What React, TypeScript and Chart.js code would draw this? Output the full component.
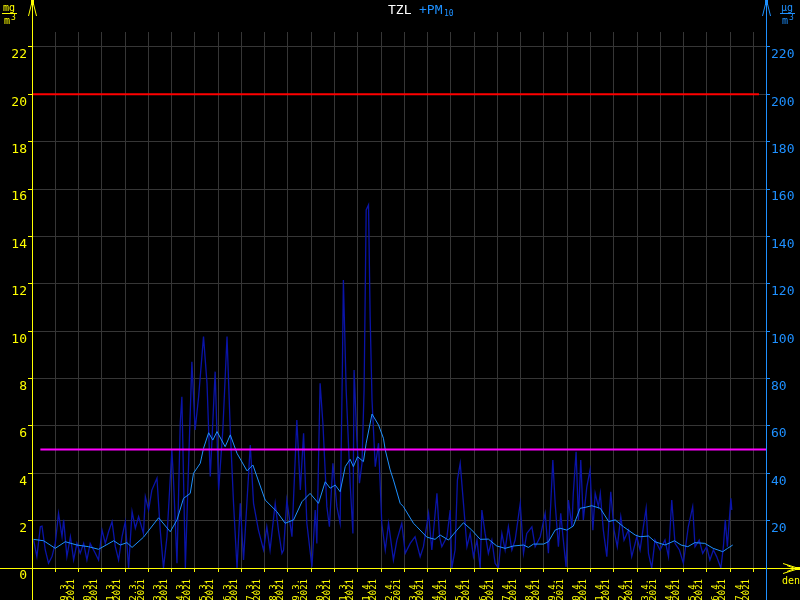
import React, { useEffect, useRef } from "react";
import { Chart, registerables } from "chart.js";
Chart.register(...registerables);

const dayLabels = [
  "19.3.", "20.3.", "21.3.", "22.3.", "23.3.", "24.3.", "25.3.", "26.3.", "27.3.", "28.3.",
  "29.3.", "30.3.", "31.3.", "1.4.", "2.4.", "3.4.", "4.4.", "5.4.", "6.4.", "7.4.",
  "8.4.", "9.4.", "10.4.", "11.4.", "12.4.", "13.4.", "14.4.", "15.4.", "16.4.", "17.4.",
];
const yearLabel = "2021";

const leftTicks = [0, 2, 4, 6, 8, 10, 12, 14, 16, 18, 20, 22];
const rightTicks = [0, 20, 40, 60, 80, 100, 120, 140, 160, 180, 200, 220];

// hourly PM10 (µg/m³), x in days since 18.3. 00:00
const pm10Days = [
  0.07, 0.21, 0.36, 0.43, 0.57, 0.71, 0.86, 1.0, 1.14, 1.29, 1.36, 1.5, 1.65, 1.79, 1.93, 2.07, 2.22, 2.36, 2.5, 2.72,
  2.86, 3.01, 3.15, 3.29, 3.44, 3.58, 3.72, 3.87, 4.01, 4.15, 4.3, 4.44, 4.58, 4.79, 4.87, 5.01, 5.15, 5.37, 5.51, 5.65,
  5.8, 6.01, 6.08, 6.23, 6.37, 6.44, 6.59, 6.73, 6.87, 7.01, 7.16, 7.37, 7.52, 7.66, 7.87, 8.02, 8.2, 8.38, 8.52, 8.66,
  8.81, 8.95, 9.09, 9.38, 9.52, 9.73, 9.95, 10.09, 10.23, 10.45, 10.59, 10.74, 10.81, 10.95, 11.17, 11.38, 11.53, 11.67, 11.81, 12.03,
  12.17, 12.24, 12.38, 12.5, 12.67, 12.78, 12.93, 13.1, 13.24, 13.34, 13.38, 13.5, 13.67, 13.79, 13.84, 13.96, 14.07, 14.18, 14.27, 14.36,
  14.46, 14.53, 14.61, 14.75, 14.89, 15.03, 15.18, 15.32, 15.53, 15.68, 15.89, 16.04, 16.25, 16.46, 16.68, 16.82, 17.04, 17.18, 17.4, 17.51,
  17.61, 17.83, 17.97, 18.04, 18.18, 18.28, 18.4, 18.54, 18.69, 18.83, 18.97, 19.12, 19.26, 19.33, 19.47, 19.61, 19.76, 19.9, 20.04, 20.19,
  20.33, 20.47, 20.62, 20.76, 20.98, 21.12, 21.26, 21.48, 21.62, 21.84, 22.05, 22.19, 22.38, 22.48, 22.62, 22.72, 22.83, 22.95, 23.05, 23.2,
  23.26, 23.38, 23.48, 23.58, 23.69, 23.84, 23.98, 24.1, 24.2, 24.34, 24.42, 24.55, 24.7, 24.87, 25.01, 25.15, 25.3, 25.44, 25.63, 25.77,
  25.99, 26.13, 26.27, 26.39, 26.49, 26.63, 26.77, 26.99, 27.2, 27.35, 27.49, 27.63, 27.82, 27.99, 28.2, 28.39, 28.49, 28.67, 28.82, 28.99,
  29.13, 29.28, 29.42, 29.6, 29.71, 29.79, 29.88, 30.03, 30.07,
];
const pm10Values = [
  11.8, 4.8, 17.4, 17.7, 7.6, 2, 4.8, 10.4, 23.1, 13.2, 20.3, 4.8, 13.2, 3.4, 10.4, 6.2, 10.4, 3.4, 10.4, 6.2,
  3.4, 16, 10.4, 15.3, 19.6, 9, 3.4, 13.2, 19.6, 0, 23.8, 16.8, 21.7, 14.6, 30.1, 24.5, 32.9, 37.9, 16, 0,
  13.2, 49.8, 37.2, 2, 61.1, 72.3, 0, 44.2, 87.1, 58.3, 72.3, 97.7, 78, 38.6, 82.9, 32.9, 58.3, 97.7, 58.3, 27.3,
  0, 27.3, 3.4, 51.9, 27.3, 16, 7.6, 17.4, 7.6, 27.3, 16, 6.2, 7.6, 28.7, 13.2, 62.5, 32.9, 56.9, 18.9, 0.5,
  24.5, 10.4, 78, 61.1, 25.9, 17.4, 44.2, 25.9, 18.9, 86.4, 121.6, 75.2, 35.8, 14.6, 83.6, 54, 35.8, 44.2, 75.2, 151.2,
  153.3, 106, 71, 42.8, 52.7, 18.9, 7.6, 18.9, 3.4, 11.8, 18.9, 6.2, 10.4, 13.2, 4.8, 9, 23.1, 7.6, 31.5, 13.2,
  9, 13.2, 24.5, 0, 7.6, 37.2, 44.2, 27.3, 9, 14.6, 4.8, 11.8, 0, 24.5, 14.6, 6.2, 11.8, 2, 0, 14.6,
  7.6, 17.4, 7.6, 11.8, 27.3, 6.2, 14.6, 17.4, 9, 13.2, 23.1, 6.2, 45.6, 27.3, 9, 23.1, 11.8, 0.5, 28.7, 17.4,
  31.5, 49.1, 20.3, 45.6, 20.3, 34.3, 41.4, 16, 31.5, 25.9, 31.5, 16, 4.8, 32.2, 16, 9, 21.7, 11.8, 16, 4.8,
  13.2, 7.6, 17.4, 25.2, 6.2, 0, 11.8, 7.6, 11.8, 4.8, 28.7, 10.4, 7.6, 2, 17.4, 25.9, 9, 11.8, 6.2, 9,
  3.4, 7.6, 4.8, 0, 9, 20.3, 9, 29.4, 24.5,
];

// moving average PM10 (µg/m³)
const avgDays = [
  0.06, 0.5, 1.0, 1.43, 1.93, 2.43, 2.86, 3.51, 3.79, 4.08, 4.3, 4.79, 5.44, 5.94, 6.23, 6.51, 6.8, 6.94, 7.23, 7.37,
  7.59, 7.77, 7.95, 8.3, 8.52, 8.81, 9.24, 9.49, 10.02, 10.52, 10.88, 11.24, 11.6, 11.95, 12.31, 12.6, 12.81, 13.03, 13.24, 13.46,
  13.67, 13.81, 13.99, 14.24, 14.36, 14.61, 14.89, 15.1, 15.18, 15.39, 15.53, 15.82, 15.96, 16.39, 16.54, 16.97, 17.32, 17.54, 17.9, 18.26,
  18.54, 18.9, 19.26, 19.61, 19.97, 20.33, 20.69, 21.12, 21.33, 21.55, 21.98, 22.19, 22.48, 22.69, 22.98, 23.26, 23.55, 23.77, 24.05, 24.42,
  24.78, 25.06, 25.42, 25.92, 26.13, 26.49, 26.77, 27.2, 27.61, 27.89, 28.18, 28.48, 28.91, 29.27, 29.68, 29.89, 30.11,
];
const avgValues = [
  12.1, 11.5, 8.3, 11.1, 9.7, 9.0, 7.9, 11.5, 9.7, 10.7, 8.7, 13, 21.2, 15.3, 20.3, 29.4, 31.5, 40, 44.2, 50.5,
  57.1, 54, 57.6, 51.2, 56.2, 48.4, 41, 43.5, 28.7, 23.8, 18.9, 20.3, 28, 31.5, 27.3, 36.4, 33.7, 35, 32.2, 42.8,
  45.9, 42.8, 47, 44.9, 52.7, 65, 60.4, 54.8, 49.8, 41.4, 37.2, 27.3, 25.9, 18.9, 17.4, 13, 12.1, 13.9, 11.8, 16,
  19.1, 16, 12.1, 12.2, 9.3, 8.3, 9.3, 9.7, 8.7, 10.1, 10.1, 11.1, 16, 16.8, 16, 17.7, 25.2, 25.6, 26.3, 25.2,
  19.6, 20.3, 17.4, 13.9, 13.2, 13.5, 11.1, 9.7, 11.5, 9.7, 9.0, 10.7, 10.4, 8.3, 6.9, 8.3, 9.7,
];

const limitRed = 200;
const limitMagenta = 50;

const X_MAX = 31.54;
const Y_MAX = 22.63;
const MONO = "'DejaVu Sans Mono', monospace";
const YELLOW = "#ffff00";
const BLUE = "#1e90ff";

const decor = {
  id: "decor",
  beforeDraw(chart: any) {
    const ctx = chart.ctx;
    ctx.save();
    ctx.fillStyle = "#000";
    ctx.fillRect(0, 0, chart.width, chart.height);
    ctx.restore();
  },
  afterDraw(chart: any) {
    const ctx = chart.ctx;
    const { left, right, bottom } = chart.chartArea;
    ctx.save();
    ctx.lineWidth = 1;
    // bottom axis
    ctx.strokeStyle = YELLOW;
    ctx.beginPath();
    ctx.moveTo(0, bottom + 0.5);
    ctx.lineTo(798, bottom + 0.5);
    ctx.stroke();
    ctx.beginPath();
    ctx.moveTo(783, bottom - 4.5);
    ctx.lineTo(799, bottom + 0.5);
    ctx.lineTo(783, bottom + 5.5);
    ctx.moveTo(787, bottom - 2.5);
    ctx.lineTo(795, bottom + 0.5);
    ctx.lineTo(787, bottom + 3.5);
    ctx.stroke();
    ctx.fillStyle = YELLOW;
    ctx.fillRect(795, bottom - 1, 5, 3);
    // left axis
    const lx = Math.round(left) + 0.5;
    ctx.beginPath();
    ctx.moveTo(lx, 0);
    ctx.lineTo(lx, 600);
    ctx.moveTo(lx - 4, 16);
    ctx.lineTo(lx, 0);
    ctx.lineTo(lx + 4, 16);
    ctx.stroke();
    ctx.fillRect(lx - 1.5, 0, 3, 5);
    // right axis
    const rx = Math.round(right) + 0.5;
    ctx.strokeStyle = BLUE;
    ctx.fillStyle = BLUE;
    ctx.beginPath();
    ctx.moveTo(rx, 0);
    ctx.lineTo(rx, 600);
    ctx.moveTo(rx - 4, 16);
    ctx.lineTo(rx, 0);
    ctx.lineTo(rx + 4, 16);
    ctx.stroke();
    ctx.fillRect(rx - 1.5, 0, 3, 5);

    // units
    const unit = (x: number, top: string, color: string) => {
      ctx.fillStyle = color;
      ctx.strokeStyle = color;
      ctx.font = `10px ${MONO}`;
      ctx.textAlign = "left";
      ctx.textBaseline = "alphabetic";
      ctx.fillText(top, x + 1, 11);
      ctx.beginPath();
      ctx.moveTo(x, 13.5);
      ctx.lineTo(x + 15, 13.5);
      ctx.stroke();
      ctx.fillText("m", x + 2, 23.5);
      ctx.font = `8px ${MONO}`;
      ctx.fillText("3", x + 9, 20);
    };
    unit(2, "mg", YELLOW);
    unit(780, "µg", BLUE);

    // den
    ctx.fillStyle = YELLOW;
    ctx.font = `10px ${MONO}`;
    ctx.fillText("den", 782, 584);

    // title
    ctx.font = `13px ${MONO}`;
    ctx.textBaseline = "alphabetic";
    ctx.fillStyle = "#ffffff";
    ctx.fillText("TZL", 388, 14);
    ctx.fillStyle = BLUE;
    ctx.fillText("+PM", 419, 14);
    ctx.font = `8px ${MONO}`;
    ctx.fillText("10", 444, 16);
    ctx.restore();
  },
};

export default function App() {
  const ref = useRef<HTMLCanvasElement | null>(null);
  useEffect(() => {
    document.body.style.background = "#000";
    const canvas = ref.current;
    if (!canvas) return;
    const pm10 = pm10Days.map((d, i) => ({ x: d, y: pm10Values[i] }));
    const avg = avgDays.map((d, i) => ({ x: d, y: avgValues[i] }));
    const chart = new Chart(canvas, {
      type: "line",
      data: {
        datasets: [
          {
            data: [{ x: 0.36, y: limitMagenta }, { x: X_MAX, y: limitMagenta }],
            borderColor: "#ff00ff",
            borderWidth: 2,
            pointRadius: 0,
            yAxisID: "y2",
          },
          {
            data: [{ x: 0, y: limitRed }, { x: 31.24, y: limitRed }],
            borderColor: "#ff0000",
            borderWidth: 2,
            pointRadius: 0,
            yAxisID: "y2",
          },
          {
            data: avg,
            borderColor: BLUE,
            borderWidth: 1,
            pointRadius: 0,
            yAxisID: "y2",
          },
          {
            data: pm10,
            borderColor: "#0a14a8",
            borderWidth: 1.3,
            pointRadius: 0,
            yAxisID: "y2",
          },
        ],
      },
      options: {
        responsive: false,
        animation: false,
        events: [],
        layout: { padding: { top: 32, left: 0, right: 0, bottom: 0 } },
        plugins: { legend: { display: false }, tooltip: { enabled: false }, title: { display: false } },
        scales: {
          x: {
            type: "linear",
            position: "bottom",
            min: 0,
            max: X_MAX,
            afterFit: (s: any) => { s.height = 32; },
            afterBuildTicks: (s: any) => {
              const t = [];
              for (let i = 0; i <= 31; i++) t.push({ value: i });
              s.ticks = t;
            },
            border: { display: false },
            grid: { color: "#363636", tickColor: YELLOW, tickLength: 4, lineWidth: 1 },
            ticks: {
              autoSkip: false,
              minRotation: 90,
              maxRotation: 90,
              padding: 7,
              labelOffset: 9,
              color: YELLOW,
              font: { family: MONO, size: 9, lineHeight: 0.8 },
              callback: (v: any) => {
                const i = Math.round(Number(v));
                if (i >= 1 && i <= dayLabels.length) return [dayLabels[i - 1], yearLabel];
                return "";
              },
            },
          },
          y: {
            type: "linear",
            position: "left",
            min: 0,
            max: Y_MAX,
            afterFit: (s: any) => { s.width = 32; },
            afterBuildTicks: (s: any) => { s.ticks = leftTicks.map((v) => ({ value: v })); },
            border: { display: false },
            grid: { color: "#363636", tickColor: YELLOW, tickLength: 4 },
            ticks: {
              padding: 1,
              labelOffset: 8,
              color: YELLOW,
              font: { family: MONO, size: 13 },
              callback: (v: any) => String(v),
            },
          },
          y2: {
            type: "linear",
            position: "right",
            min: 0,
            max: Y_MAX * 10,
            afterFit: (s: any) => { s.width = 34; },
            afterBuildTicks: (s: any) => { s.ticks = rightTicks.map((v) => ({ value: v })); },
            border: { display: false },
            grid: { drawOnChartArea: false, tickColor: BLUE, tickLength: 4 },
            ticks: {
              padding: 1,
              labelOffset: 8,
              color: BLUE,
              font: { family: MONO, size: 13 },
              callback: (v: any) => (Number(v) === 0 ? "" : String(v)),
            },
          },
        },
      },
      plugins: [decor],
    });
    return () => chart.destroy();
  }, []);
  return (
    <div style={{ position: "absolute", left: 0, top: 0, width: 800, height: 600, background: "#000" }}>
      <canvas ref={ref} width={800} height={600} style={{ display: "block" }} />
    </div>
  );
}
